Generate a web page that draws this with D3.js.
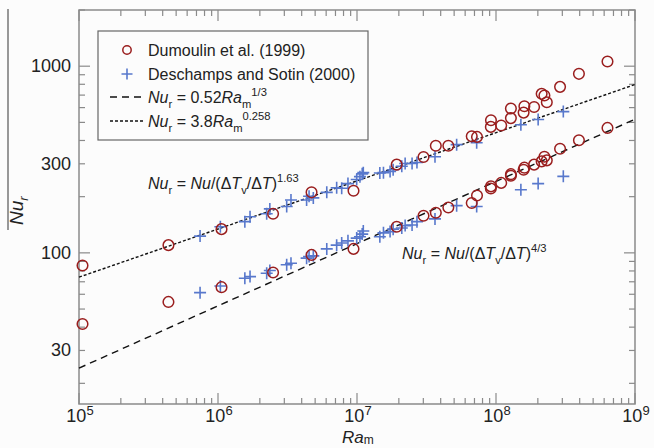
<!DOCTYPE html>
<html>
<head>
<meta charset="utf-8">
<script src="https://cdn.jsdelivr.net/npm/d3@7"></script>
<style>
  body { margin: 0; background: #fcfcfc; }
  svg { display: block; font-family: "Liberation Sans", Arial, sans-serif; }
</style>
</head>
<body>
<svg id="chart" width="654" height="448"></svg>
<script>
// Dumoulin et al. (1999): Ra_m, Nu_r with exponent 1.63 (upper) and 4/3 (lower)
const dumRa = [1.06e5, 4.4e5, 1.06e6, 2.49e6, 4.71e6, 9.44e6, 1.93e7, 3.01e7, 3.69e7, 4.54e7,
               6.69e7, 7.3e7, 9.18e7, 9.2e7, 1.09e8, 1.28e8, 1.28e8, 1.58e8, 1.6e8, 1.88e8,
               2.13e8, 2.23e8, 2.32e8, 2.89e8, 3.95e8, 6.34e8];
const dumNuUpper = [85.5, 110, 134, 162, 211, 215, 297, 326, 375, 375,
                    421, 418, 473, 513, 481, 527, 593, 564, 610, 604,
                    711, 696, 641, 775, 910, 1059];
const dumNuLower = [41.6, 54.6, 65.5, 78.5, 97.5, 105, 138, 158, 164, 175,
                    185, 203, 221, 227, 237, 259, 264, 279, 286, 297,
                    309, 327, 313, 361, 401, 467];

// Deschamps and Sotin (2000)
const desRa = [7.43e5, 1.04e6, 1.56e6, 1.70e6, 2.24e6, 2.36e6, 3.12e6, 3.35e6, 4.34e6, 4.52e6,
               4.85e6, 6.06e6, 7.14e6, 7.76e6, 8.61e6, 9.95e6, 1.05e7, 1.09e7, 1.11e7, 1.46e7,
               1.55e7, 1.73e7, 1.82e7, 2.10e7, 2.22e7, 2.49e7, 2.70e7, 3.64e7, 5.21e7, 7.26e7,
               1.51e8, 2.01e8, 3.05e8];
const desNuUpper = [123, 138, 147, 156, 162, 172, 177, 192, 192, 201,
                    197, 211, 223, 222, 235, 247, 256, 265, 269, 268,
                    269, 273, 279, 291, 301, 301, 305, 327, 380, 389,
                    486, 518, 571];
const desNuLower = [61.2, 66.5, 73.1, 74.6, 77.8, 80.4, 86.3, 87.9, 93.7, 95.5,
                    96.4, 105, 110, 113, 116, 120, 122, 126, 131, 122,
                    128, 130, 134, 136, 140, 141, 147, 152, 179, 177,
                    218, 235, 257];

// fitted power laws Nu_r = a * Ra_m^b
const fitCoef = [0.52, 3.8];
const fitExp = [1 / 3, 0.258];
const fitDash = ['7,5', '3,2'];

const xTickLabels = ['5', '6', '7', '8', '9'];
const yTickLabels = [30, 100, 300, 1000];

const RED = '#9a1e1e';
const BLUE = '#5878cc';
const AXIS = '#8a8a8a';

const svg = d3.select('#chart');
const plot = { left: 79, right: 635, top: 10, bottom: 404 };

const x = d3.scaleLog().domain([1e5, 1e9]).range([plot.left, plot.right]);
const y = d3.scaleLog().domain([15.5, 2000]).range([plot.bottom, plot.top]);

// frame
svg.append('rect')
   .attr('x', plot.left).attr('y', plot.top)
   .attr('width', plot.right - plot.left).attr('height', plot.bottom - plot.top)
   .attr('fill', 'none').attr('stroke', AXIS).attr('stroke-width', 1.5);

const isDecade = v => Math.abs(Math.log10(v) - Math.round(Math.log10(v))) < 1e-6;

// ticks on all four sides, pointing inward
const ticks = svg.append('g').attr('stroke', AXIS).attr('stroke-width', 1.2);
x.ticks().forEach(v => {
   const len = isDecade(v) ? 11 : 6;
   ticks.append('line').attr('x1', x(v)).attr('x2', x(v)).attr('y1', plot.bottom).attr('y2', plot.bottom - len);
   ticks.append('line').attr('x1', x(v)).attr('x2', x(v)).attr('y1', plot.top).attr('y2', plot.top + len);
});
y.ticks().forEach(v => {
   const len = isDecade(v) ? 11 : 6;
   ticks.append('line').attr('y1', y(v)).attr('y2', y(v)).attr('x1', plot.left).attr('x2', plot.left + len);
   ticks.append('line').attr('y1', y(v)).attr('y2', y(v)).attr('x1', plot.right).attr('x2', plot.right - len);
});

// tick labels
xTickLabels.forEach(p => {
   const t = svg.append('text')
      .attr('x', x(Math.pow(10, +p)) + 1).attr('y', 422)
      .attr('text-anchor', 'middle')
      .attr('font-size', 18).attr('fill', '#222');
   t.append('tspan').text('10');
   t.append('tspan').attr('font-size', 13).attr('dy', -7).text(p);
});
yTickLabels.forEach(v => {
   svg.append('text')
      .attr('x', 71).attr('y', y(v) + 6)
      .attr('text-anchor', 'end')
      .attr('font-size', 18).attr('fill', '#222')
      .text(v);
});

// rich text helper: segments [text, style] where style is '', 'i', 'sub', 'sup'
function richText(g, xPos, yPos, segs, size) {
   const t = g.append('text').attr('x', xPos).attr('y', yPos)
      .attr('font-size', size).attr('fill', '#222');
   let shift = 0;
   segs.forEach(([s, st]) => {
      const sp = t.append('tspan').text(s);
      let target = 0;
      if (st === 'sub') { target = size * 0.3; sp.attr('font-size', size * 0.7); }
      else if (st === 'sup') { target = -size * 0.45; sp.attr('font-size', size * 0.7); }
      if (st === 'i') sp.attr('font-style', 'italic');
      sp.attr('dy', target - shift);
      shift = target;
   });
   return t;
}

// fit lines
fitCoef.forEach((a, i) => {
   const f = r => a * Math.pow(r, fitExp[i]);
   svg.append('line')
      .attr('x1', x(1e5)).attr('y1', y(f(1e5)))
      .attr('x2', x(1e9)).attr('y2', y(f(1e9)))
      .attr('stroke', '#111').attr('stroke-width', 1.4)
      .attr('stroke-dasharray', fitDash[i]);
});

// markers
const plus = (g, cx, cy, h) => {
   g.append('path')
      .attr('d', `M${cx - h},${cy}H${cx + h}M${cx},${cy - h}V${cy + h}`)
      .attr('stroke', BLUE).attr('stroke-width', 1.6).attr('fill', 'none');
};

const desG = svg.append('g');
desRa.forEach((r, i) => {
   plus(desG, x(r), y(desNuUpper[i]), 6);
   plus(desG, x(r), y(desNuLower[i]), 6);
});

const dumG = svg.append('g');
dumRa.forEach((r, i) => {
   [dumNuUpper[i], dumNuLower[i]].forEach(n => {
      dumG.append('circle')
         .attr('cx', x(r)).attr('cy', y(n)).attr('r', 5.3)
         .attr('fill', 'none').attr('stroke', RED).attr('stroke-width', 1.5);
   });
});

// annotations
richText(svg, 148, 189, [['Nu', 'i'], ['r', 'sub'], [' = ', ''], ['Nu', 'i'], ['/(\u0394', ''],
   ['T', 'i'], ['v', 'sub'], ['/\u0394', ''], ['T', 'i'], [')', ''], ['1.63', 'sup']], 16);
richText(svg, 402, 259, [['Nu', 'i'], ['r', 'sub'], [' = ', ''], ['Nu', 'i'], ['/(\u0394', ''],
   ['T', 'i'], ['v', 'sub'], ['/\u0394', ''], ['T', 'i'], [')', ''], ['4/3', 'sup']], 16);

// legend
const lg = svg.append('g');
lg.append('rect').attr('x', 98).attr('y', 31).attr('width', 270).attr('height', 109)
   .attr('fill', '#fcfcfc').attr('stroke', '#666').attr('stroke-width', 1.2);
const rowY = [50, 74, 97, 121];
lg.append('circle').attr('cx', 127).attr('cy', rowY[0]).attr('r', 4.2)
   .attr('fill', 'none').attr('stroke', RED).attr('stroke-width', 1.5);
plus(lg, 127, rowY[1], 5.5);
fitDash.forEach((d, i) => {
   lg.append('line').attr('x1', 110).attr('x2', 143)
      .attr('y1', rowY[2 + i]).attr('y2', rowY[2 + i])
      .attr('stroke', '#111').attr('stroke-width', 1.4).attr('stroke-dasharray', d);
});
richText(lg, 148, rowY[0] + 6, [['Dumoulin et al. (1999)', '']], 16);
richText(lg, 148, rowY[1] + 6, [['Deschamps and Sotin (2000)', '']], 16);
richText(lg, 148, rowY[2] + 6, [['Nu', 'i'], ['r', 'sub'], [' = 0.52', ''], ['Ra', 'i'], ['m', 'sub'], ['1/3', 'sup']], 16);
richText(lg, 148, rowY[3] + 6, [['Nu', 'i'], ['r', 'sub'], [' = 3.8', ''], ['Ra', 'i'], ['m', 'sub'], ['0.258', 'sup']], 16);

// axis titles
const xt = svg.append('text').attr('x', 342).attr('y', 443).attr('font-size', 17).attr('fill', '#222');
xt.append('tspan').attr('font-style', 'italic').text('Ra');
xt.append('tspan').attr('font-size', 12).attr('dy', 1).text('m');

const yt = svg.append('text')
   .attr('transform', 'translate(23,225) rotate(-90)')
   .attr('font-size', 19).attr('fill', '#222');
yt.append('tspan').attr('font-style', 'italic').text('Nu');
yt.append('tspan').attr('font-size', 13).attr('font-style', 'italic').attr('dy', 5).text('r');

// stray vertical rule at the far left
svg.append('line').attr('x1', 8).attr('x2', 8).attr('y1', 9).attr('y2', 230)
   .attr('stroke', '#555').attr('stroke-width', 1.2);
</script>
</body>
</html>
